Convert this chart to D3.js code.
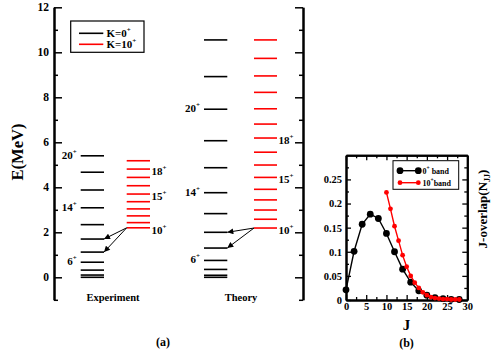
<!DOCTYPE html>
<html><head><meta charset="utf-8">
<script src="https://cdn.jsdelivr.net/npm/d3@7"></script>
<style>
body{margin:0;background:#fff;}
text{font-family:"Liberation Serif","Times New Roman",serif;font-weight:bold;}
</style></head>
<body><svg id="c" width="491" height="356"></svg>
<script>
// ---- Panel (a) data: energy levels (MeV) ----
const expK0 = [0, 0.10, 0.32, 0.67, 1.12, 1.70, 2.34, 3.09, 3.88, 4.67, 5.40];          // J=0..20 step 2
const expK10 = [2.20, 2.43, 2.73, 3.04, 3.36, 3.70, 4.07, 4.44, 4.81, 5.18];           // J=10..19
const thK0 = [0, 0.09, 0.35, 0.75, 1.30, 2.00, 2.83, 3.76, 4.87, 6.07, 7.47, 8.92, 10.55]; // J=0..24 step 2
const thK10 = [2.19, 2.58, 2.99, 3.44, 3.91, 4.44, 4.99, 5.56, 6.19, 6.81, 7.49, 8.22, 8.95, 9.73, 10.55]; // J=10..24
const k0Labels = [{i:3, t:"6"}, {i:7, t:"14"}, {i:10, t:"20"}];
const k10Labels = [{i:0, t:"10"}, {i:5, t:"15"}, {i:8, t:"18"}];
const eTicks = [0, 2, 4, 6, 8, 10, 12];
const eMinor = [-1, 1, 3, 5, 7, 9, 11];
// ---- Panel (b) data: J-overlap ----
const jBand0 = [0, 2, 4, 6, 8, 10, 12, 14, 16, 18, 20, 22, 24, 26, 28];
const nBand0 = [0.021, 0.101, 0.157, 0.178, 0.169, 0.138, 0.100, 0.064, 0.037, 0.019, 0.010, 0.005, 0.003, 0.0015, 0.001];
const jBand10 = [10, 11, 12, 13, 14, 15, 16, 17, 18, 19, 20, 21, 22, 23, 24, 25, 26, 27, 28];
const nBand10 = [0.223, 0.189, 0.153, 0.123, 0.093, 0.069, 0.050, 0.036, 0.025, 0.016, 0.010, 0.006, 0.004, 0.003, 0.002, 0.002, 0.001, 0.001, 0.001];
const bYTicks = [0, 0.05, 0.1, 0.15, 0.2, 0.25];
const bXTicks = [0, 5, 10, 15, 20, 25, 30];

const svg = d3.select("#c");
const RED = "#ff0000";

// ================= Panel (a) =================
const yE = d3.scaleLinear().domain([-1, 12]).range([299.8, 7.3]);
const axL = 54, axR = 303;

const gL = svg.append("g").attr("transform", `translate(${axL},0)`);
gL.call(d3.axisLeft(yE).tickValues(eTicks).tickSize(-8).tickSizeOuter(0).tickPadding(5).tickFormat(d3.format("d")));
gL.append("g").call(d3.axisLeft(yE).tickValues(eMinor).tickSize(-4).tickSizeOuter(0).tickFormat(""));
const gR = svg.append("g").attr("transform", `translate(${axR},0)`);
gR.call(d3.axisRight(yE).tickValues(eTicks).tickSize(-8).tickSizeOuter(0).tickFormat(""));
gR.append("g").call(d3.axisRight(yE).tickValues(eMinor).tickSize(-4).tickSizeOuter(0).tickFormat(""));
svg.selectAll(".domain").attr("stroke-width", 2);
svg.selectAll(".tick line").attr("stroke-width", 1.5);
gL.selectAll(".tick text").attr("font-size", 11.5).attr("font-family", "Liberation Serif").attr("font-weight", "bold");

svg.append("text").attr("transform", "translate(23,152) rotate(-90)").attr("text-anchor", "middle")
  .attr("font-size", 16.5).text("E(MeV)");

// arrow marker
svg.append("defs").append("marker").attr("id", "ah").attr("viewBox", "0 0 10 10").attr("refX", 10).attr("refY", 5)
  .attr("markerWidth", 7).attr("markerHeight", 6).attr("markerUnits", "userSpaceOnUse").attr("orient", "auto")
  .append("path").attr("d", "M0,0 L10,5 L0,10 Z").attr("fill", "#000");

function drawColumn(levels, x0, x1, color, labels, side) {
  svg.append("g").selectAll("line").data(levels).join("line")
    .attr("x1", x0).attr("x2", x1).attr("y1", d => yE(d)).attr("y2", d => yE(d))
    .attr("stroke", color).attr("stroke-width", 1.6);
  const g = svg.append("g");
  labels.forEach(l => {
    const t = g.append("text").attr("font-size", 11)
      .attr("y", yE(levels[l.i]) + (side === "left" ? 3 : 6));
    if (side === "left") { t.attr("x", x0 - 4).attr("text-anchor", "end"); }
    else { t.attr("x", x1 + 1.5).attr("text-anchor", "start"); }
    t.append("tspan").text(l.t);
    t.append("tspan").attr("font-size", 7).attr("dy", -5).text("+");
  });
}

// Experiment
drawColumn(expK0, 80.7, 104, "#000", k0Labels, "left");
drawColumn(expK10, 126.7, 150, RED, k10Labels, "right");
// Theory
drawColumn(thK0, 204, 227.3, "#000", k0Labels, "left");
drawColumn(thK10, 254, 277, RED, k10Labels, "right");

function arrows(k0, k10, xs, xe) {
  [5, 4].forEach(i => {
    svg.append("line").attr("x1", xs).attr("y1", yE(k10[0])).attr("x2", xe).attr("y2", yE(k0[i]))
      .attr("stroke", "#000").attr("stroke-width", 1).attr("marker-end", "url(#ah)");
  });
}
arrows(expK0, expK10, 126.7, 104);
arrows(thK0, thK10, 254, 227.3);

svg.append("text").attr("x", 113).attr("y", 300.5).attr("text-anchor", "middle").attr("font-size", 10.5).text("Experiment");
svg.append("text").attr("x", 241).attr("y", 300.5).attr("text-anchor", "middle").attr("font-size", 10.5).text("Theory");
svg.append("text").attr("x", 163).attr("y", 345.5).attr("text-anchor", "middle").attr("font-size", 12).text("(a)");

// legend (a)
svg.append("rect").attr("x", 70.7).attr("y", 21).attr("width", 73.3).attr("height", 31.3).attr("fill", "#fff").attr("stroke", "#000").attr("stroke-width", 1.2);
[["K=0", "#000", 33.3], ["K=10", RED, 44.3]].forEach(([lab, col, yy]) => {
  svg.append("line").attr("x1", 79).attr("x2", 103.3).attr("y1", yy).attr("y2", yy).attr("stroke", col).attr("stroke-width", 1.6);
  const t = svg.append("text").attr("x", 106.5).attr("y", yy + 4).attr("font-size", 11);
  t.append("tspan").text(lab);
  t.append("tspan").attr("font-size", 7).attr("dy", -5).text("+");
});

// ================= Panel (b) =================
const xb = d3.scaleLinear().domain([0, 30]).range([346, 467.3]);
const yb = d3.scaleLinear().domain([0, 0.3]).range([300, 155.3]);
const bx0 = 346, bx1 = 467.3, by0 = 155.3, by1 = 300;
const bMinorY = d3.range(1, 12, 2).map(d => d * 0.025);
const bMinorX = d3.range(1, 12, 2).map(d => d * 2.5);
const fmtY = d => String(+d.toFixed(2));

const gb = svg.append("g");
gb.append("g").attr("transform", `translate(${bx0},0)`).call(d3.axisLeft(yb).tickValues(bYTicks).tickSize(-5).tickSizeOuter(0).tickPadding(4).tickFormat(fmtY));
gb.append("g").attr("transform", `translate(${bx0},0)`).call(d3.axisLeft(yb).tickValues(bMinorY).tickSize(-3).tickSizeOuter(0).tickFormat(""));
gb.append("g").attr("transform", `translate(${bx1},0)`).call(d3.axisRight(yb).tickValues(bYTicks).tickSize(-5).tickSizeOuter(0).tickFormat(""));
gb.append("g").attr("transform", `translate(${bx1},0)`).call(d3.axisRight(yb).tickValues(bMinorY).tickSize(-3).tickSizeOuter(0).tickFormat(""));
gb.append("g").attr("transform", `translate(0,${by1})`).call(d3.axisBottom(xb).tickValues(bXTicks).tickSize(-5).tickSizeOuter(0).tickPadding(3).tickFormat(d3.format("d")));
gb.append("g").attr("transform", `translate(0,${by1})`).call(d3.axisBottom(xb).tickValues(bMinorX).tickSize(-3).tickSizeOuter(0).tickFormat(""));
gb.append("g").attr("transform", `translate(0,${by0})`).call(d3.axisTop(xb).tickValues(bXTicks).tickSize(-5).tickSizeOuter(0).tickFormat(""));
gb.append("g").attr("transform", `translate(0,${by0})`).call(d3.axisTop(xb).tickValues(bMinorX).tickSize(-3).tickSizeOuter(0).tickFormat(""));
gb.selectAll(".domain").attr("stroke-width", 2);
gb.selectAll(".tick line").attr("stroke-width", 1.3);
gb.selectAll(".tick text").attr("font-size", 10.5).attr("font-family", "Liberation Serif").attr("font-weight", "bold");

const line = d3.line().x(d => xb(d[0])).y(d => yb(d[1]));
const d0 = jBand0.map((j, i) => [j, nBand0[i]]);
const d10 = jBand10.map((j, i) => [j, nBand10[i]]);
gb.append("path").datum(d0).attr("d", line).attr("fill", "none").attr("stroke", "#000").attr("stroke-width", 1.4);
gb.append("g").selectAll("circle").data(d0).join("circle").attr("cx", d => xb(d[0])).attr("cy", d => yb(d[1])).attr("r", 3.4).attr("fill", "#000");
gb.append("path").datum(d10).attr("d", line).attr("fill", "none").attr("stroke", RED).attr("stroke-width", 1.4);
gb.append("g").selectAll("circle").data(d10).join("circle").attr("cx", d => xb(d[0])).attr("cy", d => yb(d[1])).attr("r", 2.4).attr("fill", RED);

// legend (b)
svg.append("rect").attr("x", 393).attr("y", 160.7).attr("width", 65.7).attr("height", 28.6).attr("fill", "#fff").attr("stroke", "#000").attr("stroke-width", 1);
[["0", " band", "#000", 170.7, 3.4], ["10", "band", RED, 182.7, 2.4]].forEach(([a, b, col, yy, r]) => {
  svg.append("line").attr("x1", 400).attr("x2", 418.3).attr("y1", yy).attr("y2", yy).attr("stroke", col).attr("stroke-width", 1.4);
  [400, 418.3].forEach(cx => svg.append("circle").attr("cx", cx).attr("cy", yy).attr("r", r).attr("fill", col));
  const t = svg.append("text").attr("x", 422.5).attr("y", yy + 3).attr("font-size", 8);
  t.append("tspan").text(a);
  t.append("tspan").attr("font-size", 5.5).attr("dy", -3.5).text("+");
  t.append("tspan").attr("dy", 3.5).text(b);
});

svg.append("text").attr("x", 406.5).attr("y", 330).attr("text-anchor", "middle").attr("font-size", 15).text("J");
svg.append("text").attr("x", 406.5).attr("y", 347).attr("text-anchor", "middle").attr("font-size", 12).text("(b)");
const yl = svg.append("text").attr("transform", "translate(487,209) rotate(-90)").attr("text-anchor", "middle").attr("font-size", 13);
yl.append("tspan").text("J-overlap(N");
yl.append("tspan").attr("font-size", 8).attr("dy", 3).text("JJ");
yl.append("tspan").attr("dy", -3).text(")");
</script></body></html>
